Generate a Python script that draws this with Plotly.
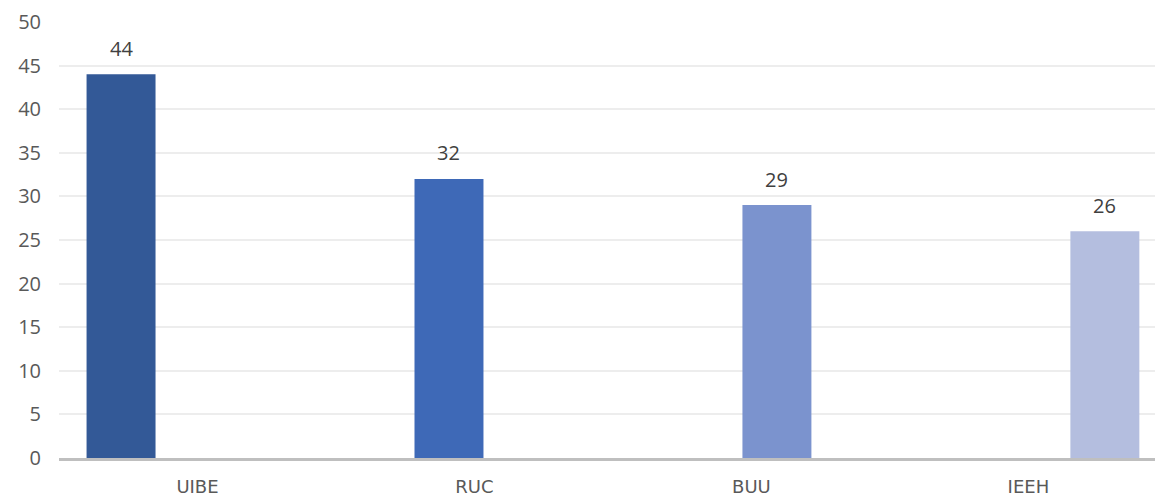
import plotly.graph_objects as go

categories = ["UIBE", "RUC", "BUU", "IEEH"]
values = [44, 32, 29, 26]
colors = ["#335997", "#3E69B7", "#7B93CE", "#B4BEDF"]
y_ticks = [0, 5, 10, 15, 20, 25, 30, 35, 40, 45, 50]

bar_w = 0.249
step = 0.184
n = len(categories)
centers = [(i - (n - 1) / 2) * step for i in range(n)]
offsets = [c - bar_w / 2 for c in centers]

fig = go.Figure()
fig.add_trace(go.Bar(
    x=categories, y=values, width=bar_w, offset=offsets,
    marker=dict(color=colors, line=dict(width=0)),
    hoverinfo="x+y",
))

for i, v in enumerate(values):
    fig.add_annotation(x=i + centers[i], y=v, text=str(v), showarrow=False,
                       yshift=26, xref="x", yref="y",
                       font=dict(family="Open Sans", size=20, color="#404040"))

fig.update_layout(
    width=1155, height=498,
    margin=dict(l=59, r=0, t=22, b=40),
    plot_bgcolor="white", paper_bgcolor="white",
    showlegend=False,
    font=dict(family="Open Sans"),
)
fig.update_xaxes(
    type="category", range=[-0.5, 3.457],
    showline=True, linecolor="#BFBFBF", linewidth=2.5,
    showgrid=False, ticks="",
    tickfont=dict(family="DejaVu Sans", size=18, color="#595959"),
    ticklabelstandoff=11,
)
fig.update_yaxes(
    range=[0, 50], tickvals=y_ticks,
    showgrid=True, gridcolor="#EDEDED", gridwidth=1.5,
    zeroline=False, showline=False, ticks="",
    tickfont=dict(family="Open Sans", size=20, color="#595959"),
    ticklabelstandoff=17,
)

fig.write_html("out.html")
